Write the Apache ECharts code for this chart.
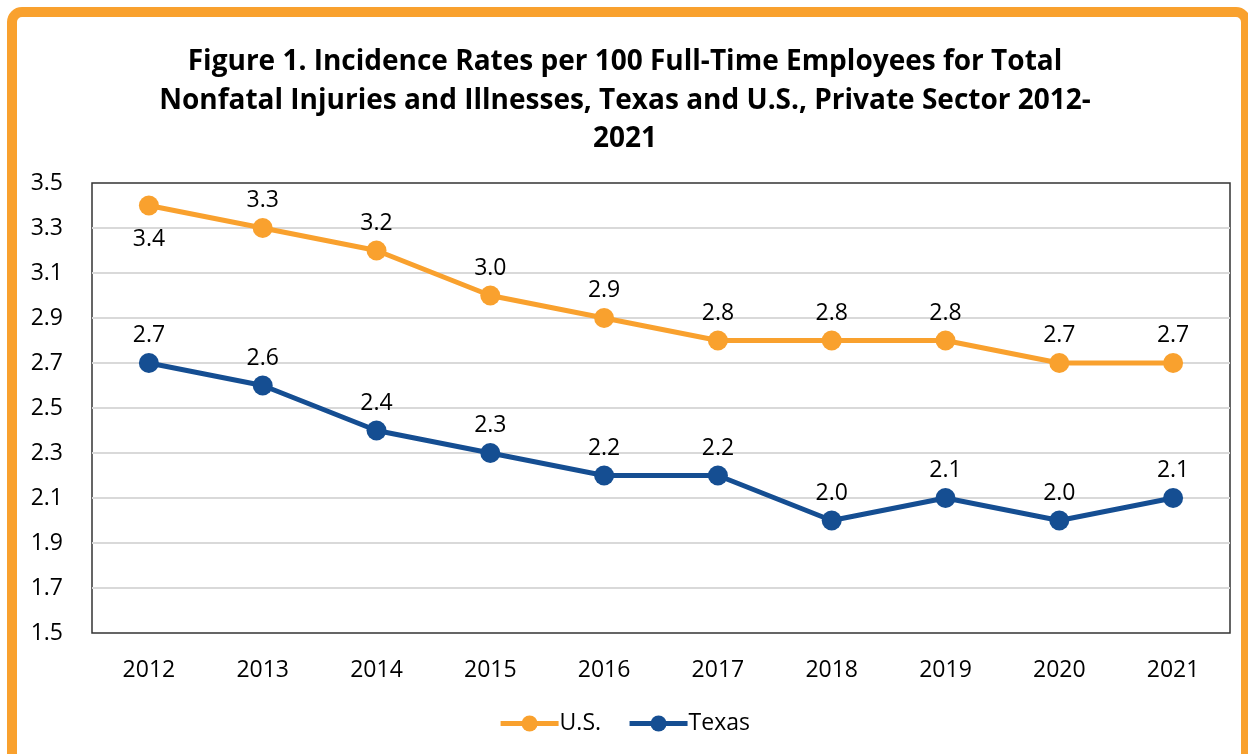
<!DOCTYPE html>
<html>
<head>
<meta charset="utf-8">
<script src="https://cdn.jsdelivr.net/npm/echarts@6/dist/echarts.min.js"></script>
<style>
  html, body { margin: 0; padding: 0; background: #fff; }
  #chart-wrapper { width: 1248px; height: 754px; }
</style>
</head>
<body>
<div id="chart-wrapper"></div>
<script>
const years = ["2012", "2013", "2014", "2015", "2016", "2017", "2018", "2019", "2020", "2021"];
const usRates = [3.4, 3.3, 3.2, 3.0, 2.9, 2.8, 2.8, 2.8, 2.7, 2.7];
const texasRates = [2.7, 2.6, 2.4, 2.3, 2.2, 2.2, 2.0, 2.1, 2.0, 2.1];

const orange = "#F9A12E";
const blue = "#154E92";
const font = "'Open Sans', 'Noto Sans', sans-serif";

const chart = echarts.init(document.getElementById("chart-wrapper"));

// US 2012 label sits under the point
const usData = usRates.map((v, i) =>
  i === 0 ? { value: v, label: { position: "bottom", distance: 12 } } : v
);

const pointLabel = {
  show: true,
  position: "top",
  distance: 6,
  fontFamily: font,
  fontSize: 23,
  color: "#000",
  formatter: (p) => p.value.toFixed(1),
};

const option = {
  backgroundColor: "#fff",
  textStyle: { fontFamily: font },
  title: {
    text: "Figure 1. Incidence Rates per 100 Full-Time Employees for Total\nNonfatal Injuries and Illnesses, Texas and U.S., Private Sector 2012-\n2021",
    left: 620,
    textAlign: "center",
    top: 38,
    textStyle: {
      fontFamily: font,
      fontWeight: "bold",
      fontSize: 28,
      lineHeight: 38.5,
      color: "#000",
    },
  },
  graphic: [
    {
      type: "rect",
      z: 100,
      silent: true,
      shape: { x: 12, y: 12, width: 1234, height: 760, r: 10 },
      style: { fill: null, stroke: orange, lineWidth: 10 },
    },
  ],
  legend: {
    bottom: 14,
    left: "center",
    itemWidth: 58,
    itemHeight: 20,
    itemGap: 26,
    lineStyle: { width: 5 },
    textStyle: { fontFamily: font, fontSize: 23, color: "#000", padding: [0, 0, 0, -4] },
    data: ["U.S.", "Texas"],
  },
  grid: {
    left: 92,
    right: 18,
    top: 183,
    bottom: 121,
    show: true,
    borderColor: "#333",
    borderWidth: 1.5,
    containLabel: false,
  },
  xAxis: {
    type: "category",
    data: years,
    boundaryGap: true,
    axisLine: { show: false },
    axisTick: { show: false },
    axisLabel: { fontFamily: font, fontSize: 23, color: "#000", margin: 26 },
  },
  yAxis: {
    type: "value",
    min: 1.5,
    max: 3.5,
    interval: 0.2,
    axisLine: { show: false },
    axisTick: { show: false },
    axisLabel: {
      fontFamily: font,
      fontSize: 23,
      color: "#000",
      margin: 29,
      align: "right",
      formatter: (v) => v.toFixed(1),
    },
    splitLine: {
      showMinLine: false,
      showMaxLine: false,
      lineStyle: { color: "#D9D9D9", width: 2 },
    },
  },
  series: [
    {
      name: "U.S.",
      type: "line",
      data: usData,
      color: orange,
      symbol: "circle",
      symbolSize: 20,
      lineStyle: { width: 5, color: orange },
      label: pointLabel,
    },
    {
      name: "Texas",
      type: "line",
      data: texasRates,
      color: blue,
      symbol: "circle",
      symbolSize: 20,
      lineStyle: { width: 5, color: blue },
      label: pointLabel,
    },
  ],
};

chart.setOption(option);
</script>
</body>
</html>
